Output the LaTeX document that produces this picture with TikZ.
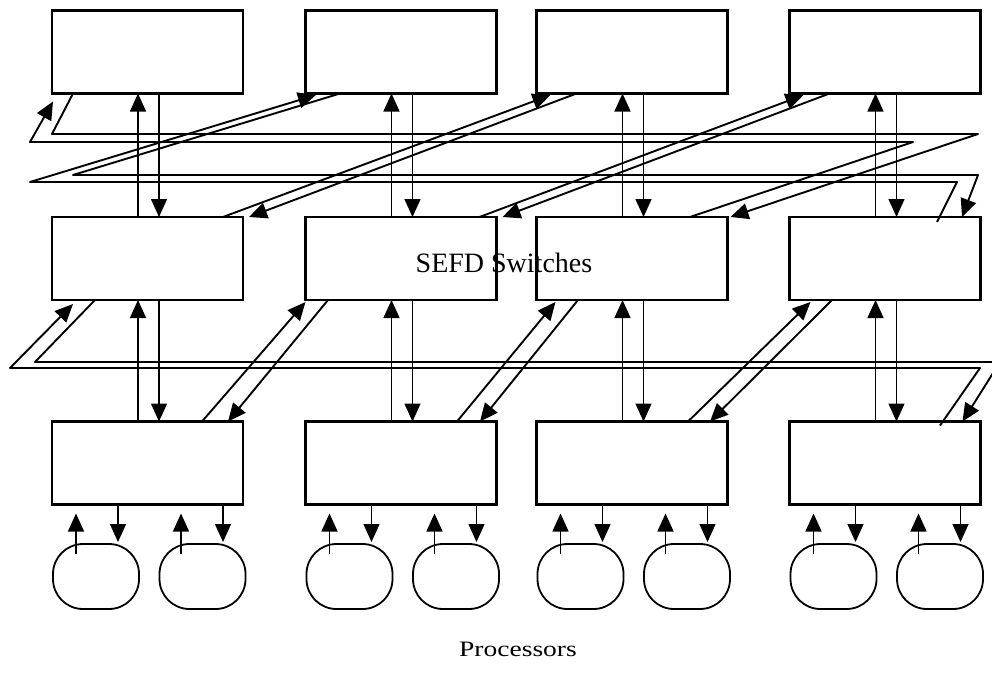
\documentclass[tikz,border=0pt]{standalone}
\usepackage{fontspec}
\setmainfont{Liberation Serif}
\usetikzlibrary{arrows.meta,calc}

\begin{document}
\begin{tikzpicture}[x=1pt,y=-1pt,
  box/.style={draw, line width=2.2pt, minimum width=191pt, minimum height=83pt, inner sep=0pt, outer sep=0pt},
  proc/.style={draw, line width=1.8pt, minimum width=86pt, minimum height=65pt, rounded corners=30pt, inner sep=0pt, outer sep=0pt},
  link/.style={line width=1.4pt},
  pipe/.style={line width=1.9pt, line join=round},
  tip/.style={-{Triangle[length=18pt,width=16pt]}},
]
\useasboundingbox (0,0) rectangle (992,672);
\clip (0,0) rectangle (992,672);

% three rows of switches and the processors below them
\foreach \i/\cx in {1/147.5,2/401,3/632,4/885}{
  \node[box] (t\i) at (\cx,52) {};
  \node[box] (m\i) at (\cx,258.5) {};
  \node[box] (b\i) at (\cx,463) {};
  \node[proc] (p\i a) at (\cx-51.5,576.5) {};
  \node[proc] (p\i b) at (\cx+55,576.5) {};
}

% straight links between the rows and to the processors
\foreach \i in {1,2,3,4}{
  \draw[link,tip] ($(m\i.north west)+(86,0)$) -- ($(t\i.south west)+(86,0)$);
  \draw[link,tip] ($(t\i.south west)+(107,0)$) -- ($(m\i.north west)+(107,0)$);
  \draw[link,tip] ($(b\i.north west)+(86,0)$) -- ($(m\i.south west)+(86,0)$);
  \draw[link,tip] ($(m\i.south west)+(107,0)$) -- ($(b\i.north west)+(107,0)$);
  \draw[link,tip] ($(p\i a.north)+(-20,10)$) -- ($(b\i.south west)+(24,9)$);
  \draw[link,tip] ($(b\i.south west)+(66,0)$) -- ($(p\i a.north)+(22,-2)$);
  \draw[link,tip] ($(p\i b.north)+(-21.5,10)$) -- ($(b\i.south west)+(129,9)$);
  \draw[link,tip] ($(b\i.south west)+(171,0)$) -- ($(p\i b.north)+(20.5,-2)$);
}

% upper stage: shifted links, two of them wrapping round the sides
\coordinate (ca) at (52,134);  \coordinate (cb) at (978,134);
\coordinate (da) at (913,142); \coordinate (db) at (30,142);
\coordinate (aa) at (73,175);  \coordinate (ab) at (978,175);
\coordinate (ba) at (957,182); \coordinate (bb) at (30,182);

\draw[pipe,tip] ($(t1.south west)+(21,0)$) -- (ca) -- (cb) -- ($(m3.north east)+(3,0)$);
\draw[pipe,tip] ($(m3.north west)+(153.5,0)$) -- (da) -- (db) -- ($(t1.south west)+(1,8)$);
\draw[pipe,tip] ($(t2.south west)+(34.5,0)$) -- (aa) -- (ab) -- ($(m4.north east)+(-18.5,0)$);
\draw[pipe,tip] ($(m4.north west)+(147.5,5)$) -- (ba) -- (bb) -- ($(t2.south west)+(10.5,1.5)$);

\draw[pipe,tip] ($(m1.north east)+(-20,0)$) -- ($(t3.south west)+(14,1.5)$);
\draw[pipe,tip] ($(t3.south west)+(40,0)$) -- ($(m1.north east)+(6,0)$);
\draw[pipe,tip] ($(m2.north east)+(-17,0)$) -- ($(t4.south west)+(14,1.5)$);
\draw[pipe,tip] ($(t4.south west)+(40,0)$) -- ($(m2.north east)+(6,0)$);

% lower stage: neighbour links, the last one wrapping round
\draw[pipe,tip] ($(b1.north east)+(-41,0)$) -- ($(m2.south west)+(0,2)$);
\draw[pipe,tip] ($(m2.south west)+(22.5,0)$) -- ($(b1.north east)+(-15,0)$);
\draw[pipe,tip] ($(b2.north east)+(-39.5,0)$) -- ($(m3.south west)+(19,2)$);
\draw[pipe,tip] ($(m3.south west)+(41.5,0)$) -- ($(b2.north east)+(-16.5,0)$);
\draw[pipe,tip] ($(b3.north east)+(-39.5,0)$) -- ($(m4.south west)+(21,2)$);
\draw[pipe,tip] ($(m4.south west)+(42.5,0)$) -- ($(b3.north east)+(-17.5,0)$);

\coordinate (ea) at (980,368); \coordinate (eb) at (10,368);
\coordinate (fa) at (35,362);  \coordinate (fb) at (1000,362);
\draw[pipe,tip] ($(b4.north west)+(150.5,4)$) -- (ea) -- (eb) -- ($(m1.south west)+(21,4)$);
\draw[pipe,tip] ($(m1.south west)+(43,0)$) -- (fa) -- (fb) -- ($(b4.north east)+(-18,0)$);

% labels
\node[font=\fontsize{28}{30}\selectfont, anchor=base, inner sep=0pt] (sefd) at (504,272) {SEFD Switches};
\node[font=\fontsize{22}{24}\selectfont, anchor=base, inner sep=0pt] (procs) at (518,656) {\scalebox{1.25}[1]{Processors}};
\end{tikzpicture}
\end{document}
